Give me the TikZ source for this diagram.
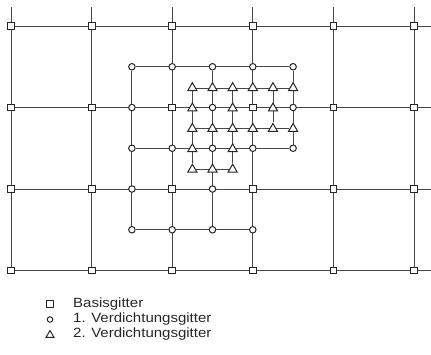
\documentclass[tikz,border=0pt]{standalone}
\usepackage{fontspec}
\newfontfamily\legendfont[FakeStretch=1.12]{Liberation Sans}
\usetikzlibrary{shapes.geometric,backgrounds}
\tikzset{
  gridline/.style={draw=black!72,line width=0.85pt},
  sq/.style={rectangle,draw=black!85,fill=white,line width=1pt,minimum size=6.8pt,inner sep=0pt},
  ci/.style={circle,draw=black!85,fill=white,line width=1pt,minimum size=6.5pt,inner sep=0pt},
  tri/.style={regular polygon,regular polygon sides=3,draw=black!85,fill=white,line width=1pt,minimum size=10.5pt,inner sep=0pt},
  legtext/.style={anchor=west,inner sep=0pt,font=\legendfont\fontsize{13.4pt}{15pt}\selectfont,text=black!85}
}
\begin{document}
\begin{tikzpicture}[x=1pt,y=-1pt]
\useasboundingbox (0,0) rectangle (431,354);
% basis grid
\foreach \n in {0,4,8,12,16,20}{
  \foreach \p in {0,4,8,12}{
    \node[sq] (n\n-\p) at ({11+20.15*\n},{26+20.375*\p}) {};
  }
  \coordinate (t\n) at ({11+20.15*\n},7);
}
\foreach \p in {0,4,8,12}{
  \coordinate (r\p) at (431,{26+20.375*\p});
}
% first densification
\foreach \n/\p in {6/2,8/2,10/2,12/2,14/2,6/4,10/4,14/4,6/6,8/6,10/6,12/6,14/6,6/8,10/8,6/10,8/10,10/10,12/10}{
  \node[ci] (n\n-\p) at ({11+20.15*\n},{26+20.375*\p}) {};
}
% second densification
\foreach \n/\p in {9/3,10/3,11/3,12/3,13/3,14/3,9/4,11/4,13/4,9/5,10/5,11/5,12/5,13/5,14/5,9/6,11/6,9/7,10/7,11/7}{
  \node[tri] (n\n-\p) at ({11+20.15*\n},{26+20.375*\p+0.8}) {};
}
\begin{pgfonlayer}{background}
  \foreach \p in {0,4,8,12}{ \draw[gridline] (n0-\p) -- (r\p); }
  \foreach \n in {0,4,8,12,16,20}{ \draw[gridline] (t\n) -- (n\n-12); }
  % level 1
  \draw[gridline] (n6-2) -- (n14-2);
  \draw[gridline] (n6-6) -- (n14-6);
  \draw[gridline] (n6-10) -- (n12-10);
  \draw[gridline] (n6-2) -- (n6-10);
  \draw[gridline] (n10-2) -- (n10-10);
  \draw[gridline] (n14-2) -- (n14-6);
  % level 2
  \draw[gridline] (n9-3) -- (n14-3);
  \draw[gridline] (n9-5) -- (n14-5);
  \draw[gridline] (n9-7) -- (n11-7);
  \draw[gridline] (n9-3) -- (n9-7);
  \draw[gridline] (n11-3) -- (n11-7);
  \draw[gridline] (n13-3) -- (n13-5);
\end{pgfonlayer}
% legend
\node[sq] (lsq) at (50,304) {};
\node[ci,minimum size=5.5pt] (lci) at (50,319.5) {};
\node[tri,minimum size=9pt] (ltri) at (50,335) {};
\node[legtext] (lt1) at (73,304) {Basisgitter};
\node[legtext] (lt2) at (73,319) {1. Verdichtungsgitter};
\node[legtext] (lt3) at (73,334) {2. Verdichtungsgitter};
\end{tikzpicture}
\end{document}
